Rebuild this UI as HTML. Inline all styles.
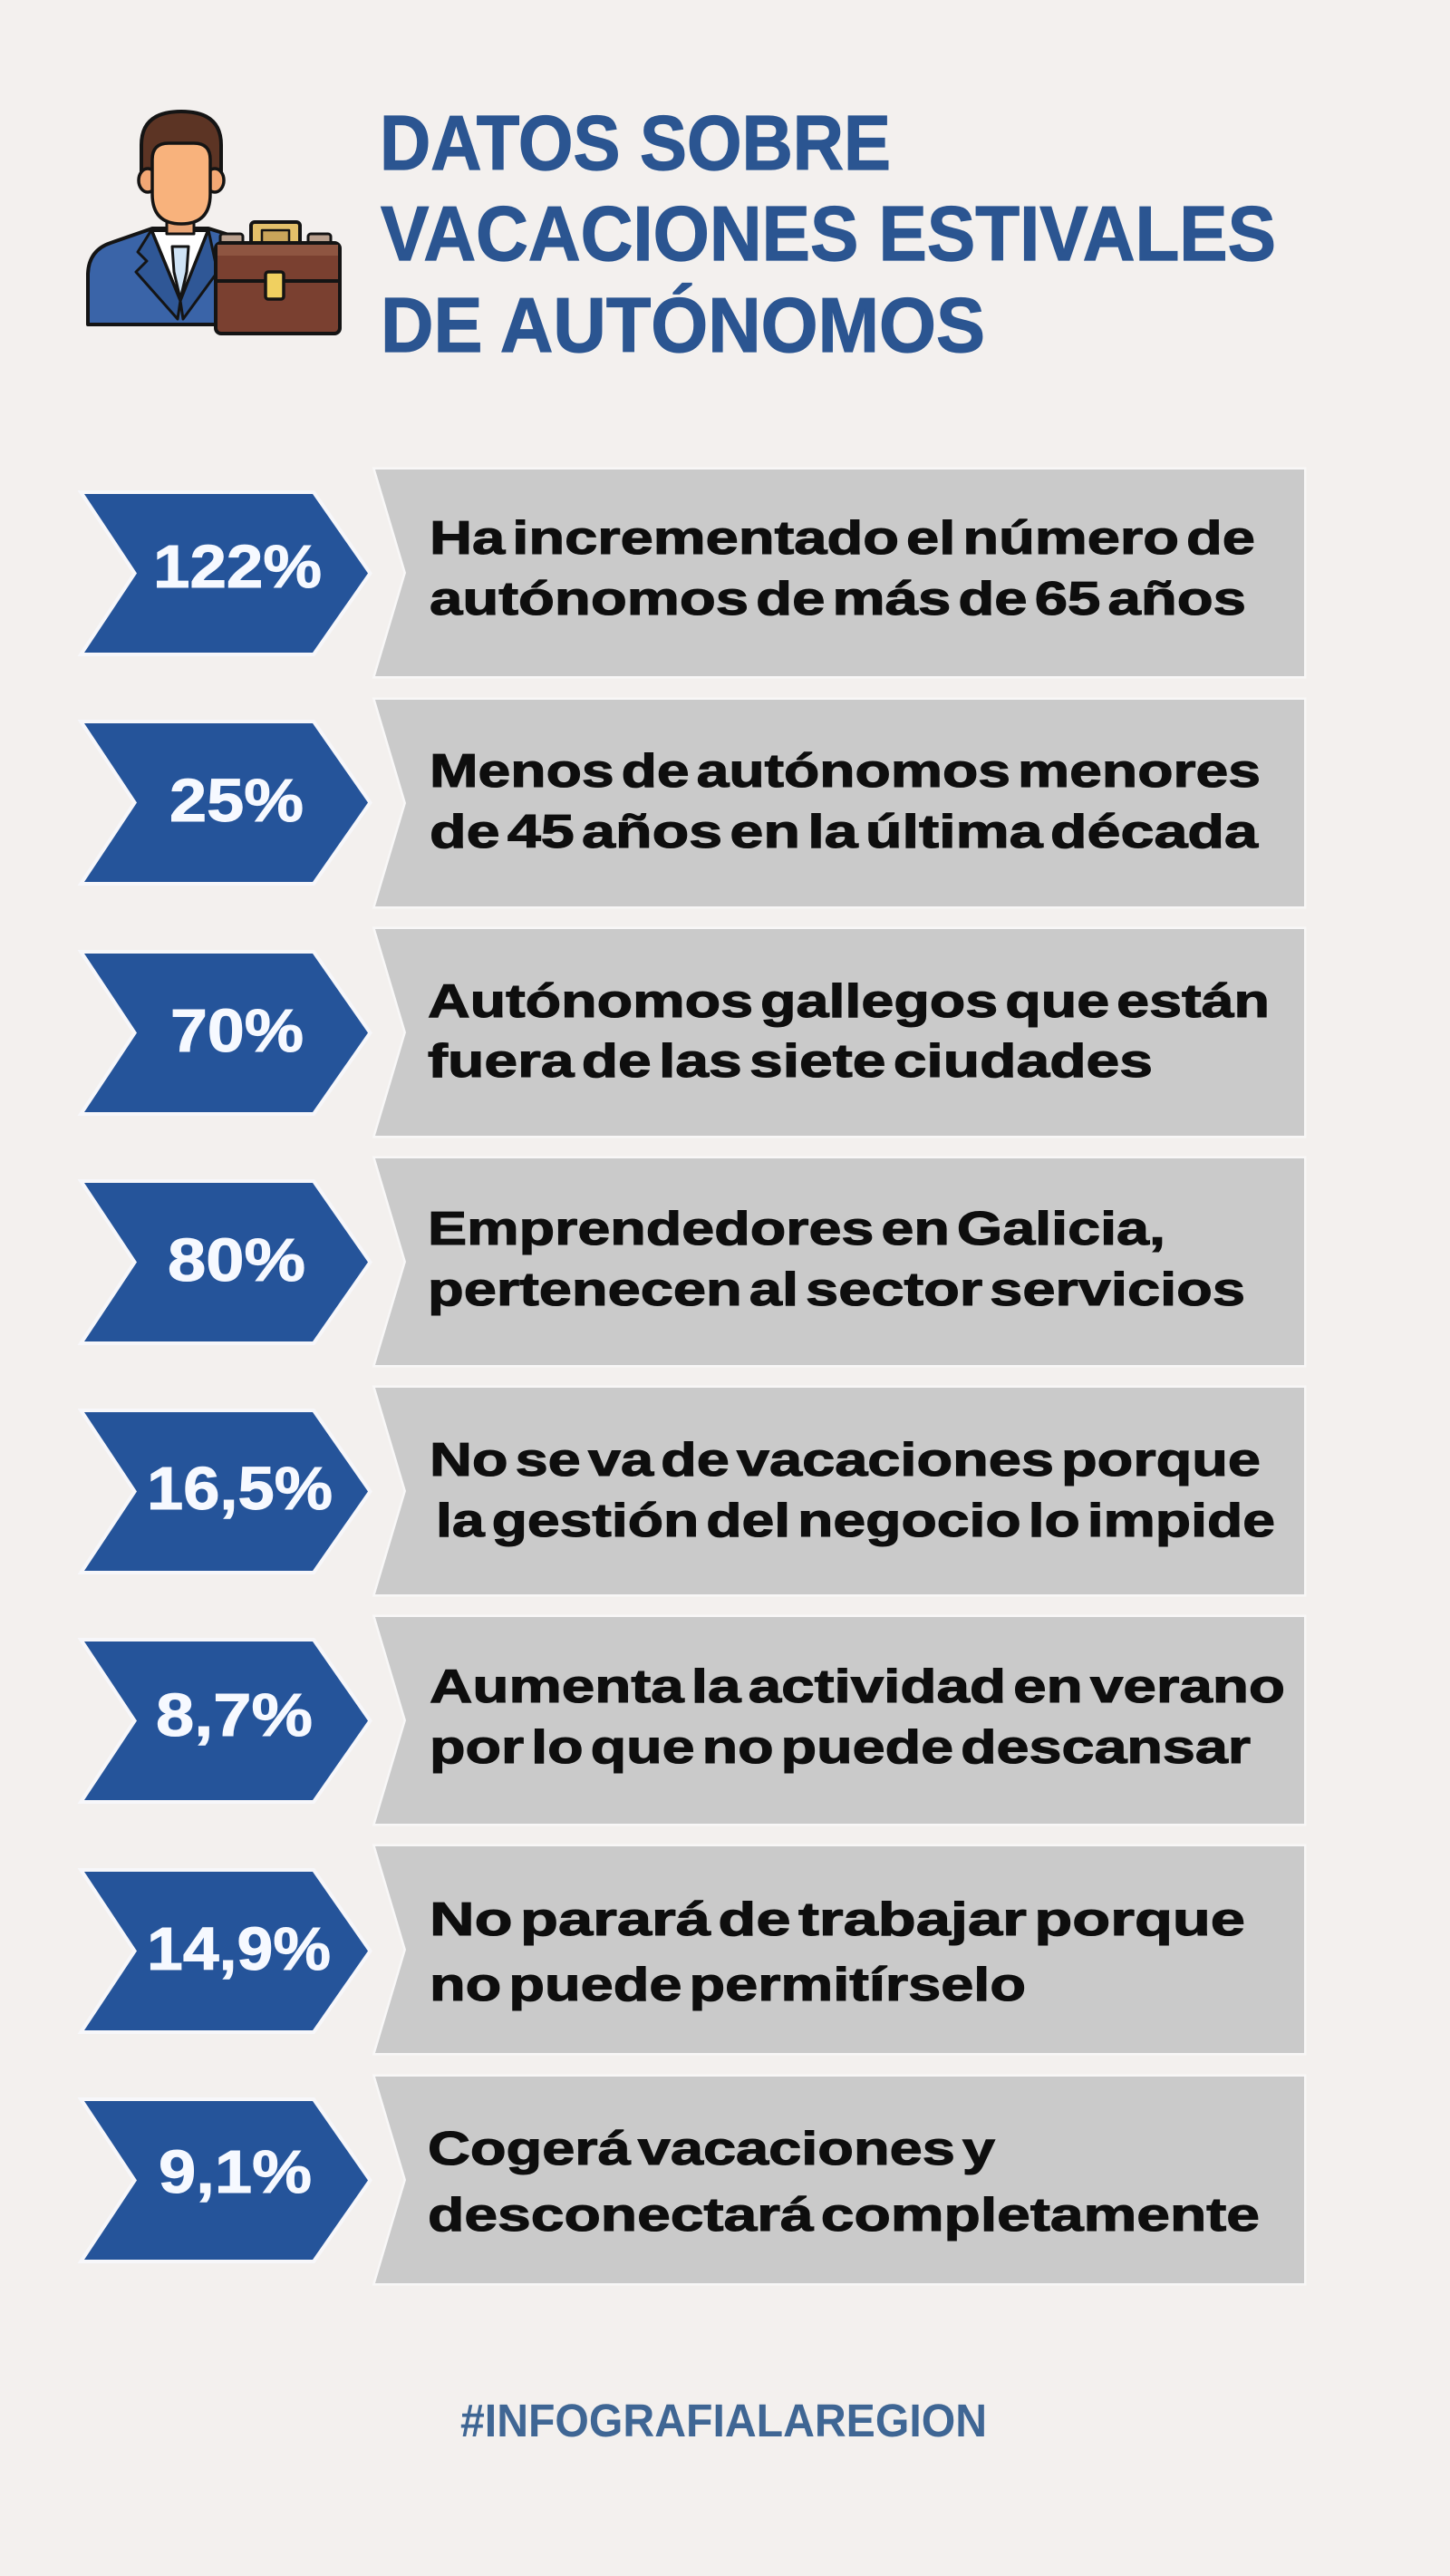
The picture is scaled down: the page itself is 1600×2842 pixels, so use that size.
<!DOCTYPE html>
<html lang="es">
<head>
<meta charset="utf-8">
<title>Datos sobre vacaciones estivales de autónomos</title>
<style>
  html, body { margin: 0; padding: 0; background: #F3F0EE; }
  svg { display: block; }
  .t { font-family: "Liberation Sans", "DejaVu Sans", sans-serif; font-weight: bold; }
  .d { word-spacing: -8px; }
</style>
</head>
<body>
<svg width="1600" height="2842" viewBox="0 0 1600 2842" xmlns="http://www.w3.org/2000/svg">
  <rect x="0" y="0" width="1600" height="2842" fill="#F3F0EE"/>

  <!-- ICON -->
  <g stroke="#141414" stroke-width="4" stroke-linejoin="round">
    <!-- suit -->
    <path d="M97,358 L97,302 Q98,276 122,268 L168,252 L230,252 L262,262 L262,358 Z" fill="#3A64A8"/>
    <!-- shirt V -->
    <polygon points="167,254 230,254 199,332" fill="#FFFFFF"/>
    <!-- tie -->
    <polygon points="190,272 208,272 206,300 199,330 192,300" fill="#CFE3F5" stroke-width="3"/>
    <!-- lapels -->
    <polygon points="167,254 199,332 196,352 150,300 162,288 152,278" fill="#2F5796" stroke-width="3"/>
    <polygon points="230,254 199,332 202,352 240,300" fill="#2F5796" stroke-width="3"/>
    <!-- neck -->
    <rect x="184" y="232" width="30" height="26" fill="#E9A576" stroke-width="3"/>
    <!-- hair -->
    <path d="M156,196 L156,160 Q156,123 200,123 Q244,123 244,160 L244,196 Z" fill="#5C3424"/>
    <!-- ears -->
    <ellipse cx="163" cy="199" rx="10" ry="13" fill="#F2A774" stroke-width="3.5"/>
    <ellipse cx="237" cy="199" rx="10" ry="13" fill="#F2A774" stroke-width="3.5"/>
    <!-- face -->
    <path d="M168,176 Q168,158 186,158 L214,158 Q232,158 232,176 L232,214 Q232,247 200,247 Q168,247 168,214 Z" fill="#F8B27C" stroke-width="3.5"/>
    <!-- briefcase handle -->
    <rect x="277" y="245" width="54" height="26" rx="4" fill="#E3C06A"/>
    <rect x="289" y="254" width="30" height="14" fill="#C9A55A" stroke-width="2.5"/>
    <!-- hinges -->
    <rect x="243" y="258" width="25" height="14" rx="3" fill="#B9A08E" stroke-width="3"/>
    <rect x="340" y="258" width="25" height="14" rx="3" fill="#B9A08E" stroke-width="3"/>
    <!-- body -->
    <rect x="238" y="268" width="137" height="100" rx="6" fill="#7A4030"/>
    <rect x="240" y="270" width="133" height="12" fill="#8E5541" stroke="none"/>
    <line x1="238" y1="310" x2="375" y2="310" stroke-width="4"/>
    <rect x="293" y="300" width="20" height="30" rx="3" fill="#F0D060" stroke-width="3.5"/>
  </g>

  <!-- TITLE -->
  <g class="t" fill="#2B5591" font-size="85" stroke="#2B5591" stroke-width="1.2">
    <text x="419" y="187" textLength="564" lengthAdjust="spacingAndGlyphs">DATOS SOBRE</text>
    <text x="420" y="287" textLength="988" lengthAdjust="spacingAndGlyphs">VACACIONES ESTIVALES</text>
    <text x="420" y="388" textLength="667" lengthAdjust="spacingAndGlyphs">DE AUTÓNOMOS</text>
  </g>

  <!-- ROWS: gray boxes -->
  <g fill="#CACACA" stroke="#FAFAFB" stroke-width="5" stroke-opacity="0.7" paint-order="stroke">
    <polygon points="414,518 1439,518 1439,746 414,746 448,632"/>
    <polygon points="414,772 1439,772 1439,1000 414,1000 448,886"/>
    <polygon points="414,1025 1439,1025 1439,1253 414,1253 448,1139"/>
    <polygon points="414,1278 1439,1278 1439,1506 414,1506 448,1392"/>
    <polygon points="414,1531 1439,1531 1439,1759 414,1759 448,1645"/>
    <polygon points="414,1784 1439,1784 1439,2012 414,2012 448,1898"/>
    <polygon points="414,2037 1439,2037 1439,2265 414,2265 448,2151"/>
    <polygon points="414,2291 1439,2291 1439,2519 414,2519 448,2405"/>
  </g>

  <!-- chevrons -->
  <g fill="#25549A" stroke="#F7F9FD" stroke-width="8" stroke-opacity="0.8" paint-order="stroke">
    <polygon points="93,545 345,545 406,632.5 345,720 93,720 151,632.5"/>
    <polygon points="93,798 345,798 406,885.5 345,973 93,973 151,885.5"/>
    <polygon points="93,1052 345,1052 406,1139.5 345,1227 93,1227 151,1139.5"/>
    <polygon points="93,1305 345,1305 406,1392.5 345,1480 93,1480 151,1392.5"/>
    <polygon points="93,1558 345,1558 406,1645.5 345,1733 93,1733 151,1645.5"/>
    <polygon points="93,1811 345,1811 406,1898.5 345,1986 93,1986 151,1898.5"/>
    <polygon points="93,2065 345,2065 406,2152.5 345,2240 93,2240 151,2152.5"/>
    <polygon points="93,2318 345,2318 406,2405.5 345,2493 93,2493 151,2405.5"/>
  </g>

  <!-- percentages -->
  <g class="t" fill="#F6F9FF" font-size="67" stroke="#F6F9FF" stroke-width="1">
    <text x="169" y="648" textLength="186" lengthAdjust="spacingAndGlyphs">122%</text>
    <text x="187" y="906" textLength="148" lengthAdjust="spacingAndGlyphs">25%</text>
    <text x="188" y="1160" textLength="147" lengthAdjust="spacingAndGlyphs">70%</text>
    <text x="185" y="1413" textLength="152" lengthAdjust="spacingAndGlyphs">80%</text>
    <text x="162" y="1665" textLength="205" lengthAdjust="spacingAndGlyphs">16,5%</text>
    <text x="172" y="1915" textLength="173" lengthAdjust="spacingAndGlyphs">8,7%</text>
    <text x="162" y="2173" textLength="203" lengthAdjust="spacingAndGlyphs">14,9%</text>
    <text x="175" y="2419" textLength="169" lengthAdjust="spacingAndGlyphs">9,1%</text>
  </g>

  <!-- descriptions -->
  <g class="t d" fill="#0E0E0E" font-size="52" stroke="#0E0E0E" stroke-width="1.1">
    <text x="474" y="611" textLength="911" lengthAdjust="spacingAndGlyphs">Ha incrementado el número de</text>
    <text x="474" y="678" textLength="901" lengthAdjust="spacingAndGlyphs">autónomos de más de 65 años</text>

    <text x="474" y="868" textLength="917" lengthAdjust="spacingAndGlyphs">Menos de autónomos menores</text>
    <text x="474" y="935" textLength="914" lengthAdjust="spacingAndGlyphs">de 45 años en la última década</text>

    <text x="472" y="1122" textLength="929" lengthAdjust="spacingAndGlyphs">Autónomos gallegos que están</text>
    <text x="472" y="1188" textLength="800" lengthAdjust="spacingAndGlyphs">fuera de las siete ciudades</text>

    <text x="472" y="1373" textLength="814" lengthAdjust="spacingAndGlyphs">Emprendedores en Galicia,</text>
    <text x="472" y="1440" textLength="902" lengthAdjust="spacingAndGlyphs">pertenecen al sector servicios</text>

    <text x="474" y="1628" textLength="917" lengthAdjust="spacingAndGlyphs">No se va de vacaciones porque</text>
    <text x="481" y="1695" textLength="926" lengthAdjust="spacingAndGlyphs">la gestión del negocio lo impide</text>

    <text x="474" y="1878" textLength="944" lengthAdjust="spacingAndGlyphs">Aumenta la actividad en verano</text>
    <text x="474" y="1945" textLength="906" lengthAdjust="spacingAndGlyphs">por lo que no puede descansar</text>

    <text x="474" y="2135" textLength="900" lengthAdjust="spacingAndGlyphs">No parará de trabajar porque</text>
    <text x="474" y="2207" textLength="658" lengthAdjust="spacingAndGlyphs">no puede permitírselo</text>

    <text x="472" y="2388" textLength="626" lengthAdjust="spacingAndGlyphs">Cogerá vacaciones y</text>
    <text x="472" y="2461" textLength="918" lengthAdjust="spacingAndGlyphs">desconectará completamente</text>
  </g>

  <!-- footer -->
  <text class="t" x="508" y="2688" font-size="51" fill="#3F6694" textLength="581" lengthAdjust="spacingAndGlyphs">#INFOGRAFIALAREGION</text>
</svg>
</body>
</html>
